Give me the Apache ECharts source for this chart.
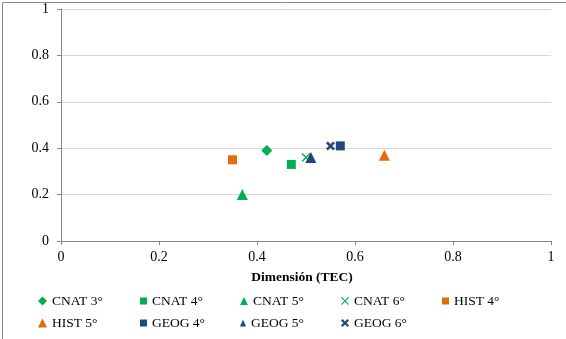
<!DOCTYPE html>
<html>
<head>
<meta charset="utf-8">
<script src="https://cdn.jsdelivr.net/npm/echarts@6/dist/echarts.min.js"></script>
<style>
  html, body { margin: 0; padding: 0; background: #fff; }
  #chart { width: 566px; height: 339px; }
</style>
</head>
<body>
<div id="chart"></div>
<script>
// Series names, TEC dimension (x) and value (y) per group
const seriesNames = ['CNAT 3°', 'CNAT 4°', 'CNAT 5°', 'CNAT 6°', 'HIST 4°', 'HIST 5°', 'GEOG 4°', 'GEOG 5°', 'GEOG 6°'];
const xValues = [0.42, 0.47, 0.37, 0.50, 0.35, 0.66, 0.57, 0.51, 0.55];
const yValues = [0.39, 0.33, 0.20, 0.36, 0.35, 0.37, 0.41, 0.36, 0.41];
const xTicks = [0, 0.2, 0.4, 0.6, 0.8, 1];
const yTicks = [0, 0.2, 0.4, 0.6, 0.8, 1];

const GREEN = '#00B050', ORANGE = '#E46C0A', NAVY = '#1F497D';
const thinX = 'path://M0,1 L1,0 L5,4 L9,0 L10,1 L6,5 L10,9 L9,10 L5,6 L1,10 L0,9 L4,5 Z';
const boldX = 'path://M0,2 L2,0 L5,3 L8,0 L10,2 L7,5 L10,8 L8,10 L5,7 L2,10 L0,8 L3,5 Z';

const styles = [
  { color: GREEN,  symbol: 'diamond',  size: 11, legend: [9, 9] },
  { color: GREEN,  symbol: 'rect',     size: 9,  legend: [7, 7] },
  { color: GREEN,  symbol: 'triangle', size: 11, legend: [8, 8] },
  { color: GREEN,  symbol: thinX,      size: 9,  legend: [8, 8] },
  { color: ORANGE, symbol: 'rect',     size: 9,  legend: [7, 7] },
  { color: ORANGE, symbol: 'triangle', size: 11, legend: [9, 9] },
  { color: NAVY,   symbol: 'rect',     size: 9,  legend: [7, 7] },
  { color: NAVY,   symbol: 'triangle', size: 11, legend: [6, 7] },
  { color: NAVY,   symbol: boldX,      size: 9,  legend: [8, 8] }
];

// legend grid: five columns, two rows
const legendCols = [38, 140, 240, 341, 442];
const legendRows = [294, 316];

const FONT = '"Liberation Serif", "Times New Roman", serif';

const series = seriesNames.map((name, i) => ({
  name: name,
  type: 'scatter',
  symbol: styles[i].symbol,
  symbolSize: styles[i].size,
  itemStyle: { color: styles[i].color, opacity: 1 },
  data: [[xValues[i], yValues[i]]]
}));

const legends = seriesNames.map((name, i) => {
  const col = i % 5, row = Math.floor(i / 5);
  return {
    data: [{ name: name, icon: styles[i].symbol }],
    left: legendCols[col],
    top: legendRows[row],
    padding: 0,
    itemWidth: styles[i].legend[0],
    itemHeight: styles[i].legend[1],
    selectedMode: false,
    textStyle: { fontFamily: FONT, fontSize: 13.5, color: '#000' }
  };
});

const chart = echarts.init(document.getElementById('chart'), null, { renderer: 'canvas' });
chart.setOption({
  animation: false,
  backgroundColor: '#fff',
  grid: { left: 61, right: 15, top: 9, bottom: 98 },
  xAxis: {
    type: 'value', min: xTicks[0], max: xTicks[xTicks.length - 1], interval: 0.2,
    name: 'Dimensión (TEC)', nameLocation: 'middle', nameGap: 30,
    nameTextStyle: { fontFamily: FONT, fontSize: 13.5, fontWeight: 'bold', color: '#000', padding: [0, 8, 0, 0] },
    axisLine: { show: true, lineStyle: { color: '#868686', width: 1 } },
    axisTick: { show: true, length: 4, lineStyle: { color: '#868686' } },
    axisLabel: { fontFamily: FONT, fontSize: 14, color: '#000', margin: 9,
      formatter: v => String(Math.round(v * 10) / 10) },
    splitLine: { show: false }
  },
  yAxis: {
    type: 'value', min: yTicks[0], max: yTicks[yTicks.length - 1], interval: 0.2,
    axisLine: { show: true, lineStyle: { color: '#868686', width: 1 } },
    axisTick: { show: true, length: 4, lineStyle: { color: '#868686' } },
    axisLabel: { fontFamily: FONT, fontSize: 14, color: '#000', margin: 12,
      formatter: v => String(Math.round(v * 10) / 10) },
    splitLine: { show: true, lineStyle: { color: '#D9D9D9', width: 1 } }
  },
  legend: legends,
  series: series,
  graphic: [{
    type: 'rect', left: 0, top: 0, silent: true,
    shape: { x: 0.5, y: 0.5, width: 565, height: 338 },
    style: { fill: 'none', stroke: '#8C8C8C', lineWidth: 1 }
  }]
});
</script>
</body>
</html>
